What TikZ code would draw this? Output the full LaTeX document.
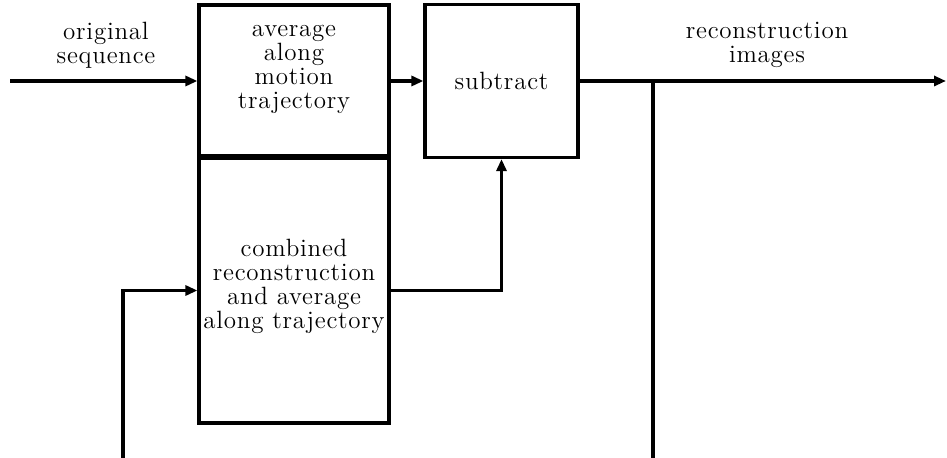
\documentclass[tikz,border=0pt]{standalone}
\usepackage{fontspec}
\setmainfont{Latin Modern Roman}[LetterSpace=3]
\usetikzlibrary{arrows.meta}

\tikzset{
  block/.style={draw, line width=1.6pt, inner sep=0pt, font=\fontsize{12.5}{12}\selectfont},
  lbl/.style={align=center, font=\fontsize{12.5}{12}\selectfont},
  flow/.style={line width=1.6pt, -{Triangle[length=6pt, width=5pt]}},
  wire/.style={line width=1.6pt},
}

\begin{document}
\begin{tikzpicture}[x=0.5pt, y=-0.5pt]
    \useasboundingbox (0,0) rectangle (947,458);
    % Blocks
    \node[block, minimum width=95pt, minimum height=75.5pt] (avg) at (294,80.5) {};
    \node[block, minimum width=95pt, minimum height=132.5pt] (comb) at (294,290.5) {};
    \node[block, minimum width=76.5pt, minimum height=76.5pt] (sub) at (501.5,81) {subtract};
    % Text inside the two left blocks
    \node[lbl] (avgtext) at (294,69) {average\\along\\motion\\trajectory};
    \node[lbl] (combtext) at (294,286) {combined\\reconstruction\\and average\\along trajectory};
    % Signal labels
    \node[lbl] (srclabel) at (106,45) {original\\sequence};
    \node[lbl] (outlabel) at (767,45) {reconstruction\\images};
    % Free ends of the signal lines
    \coordinate (src) at (10,81);
    \coordinate (out) at (946,81);
    \coordinate (tap) at (653,81);
    \coordinate (tapend) at (653,458);
    \coordinate (fb) at (123,458);
    % Forward path
    \draw[flow] (src) -- (src -| avg.west);
    \draw[flow] (avg.east |- src) -- (src -| sub.west);
    \draw[flow] (sub.east |- src) -- (out);
    \draw[wire] (tap) -- (tapend);
    % Lower path
    \draw[flow] (fb) |- (comb.west);
    \draw[flow] (comb.east) -| (sub.south);
\end{tikzpicture}
\end{document}
